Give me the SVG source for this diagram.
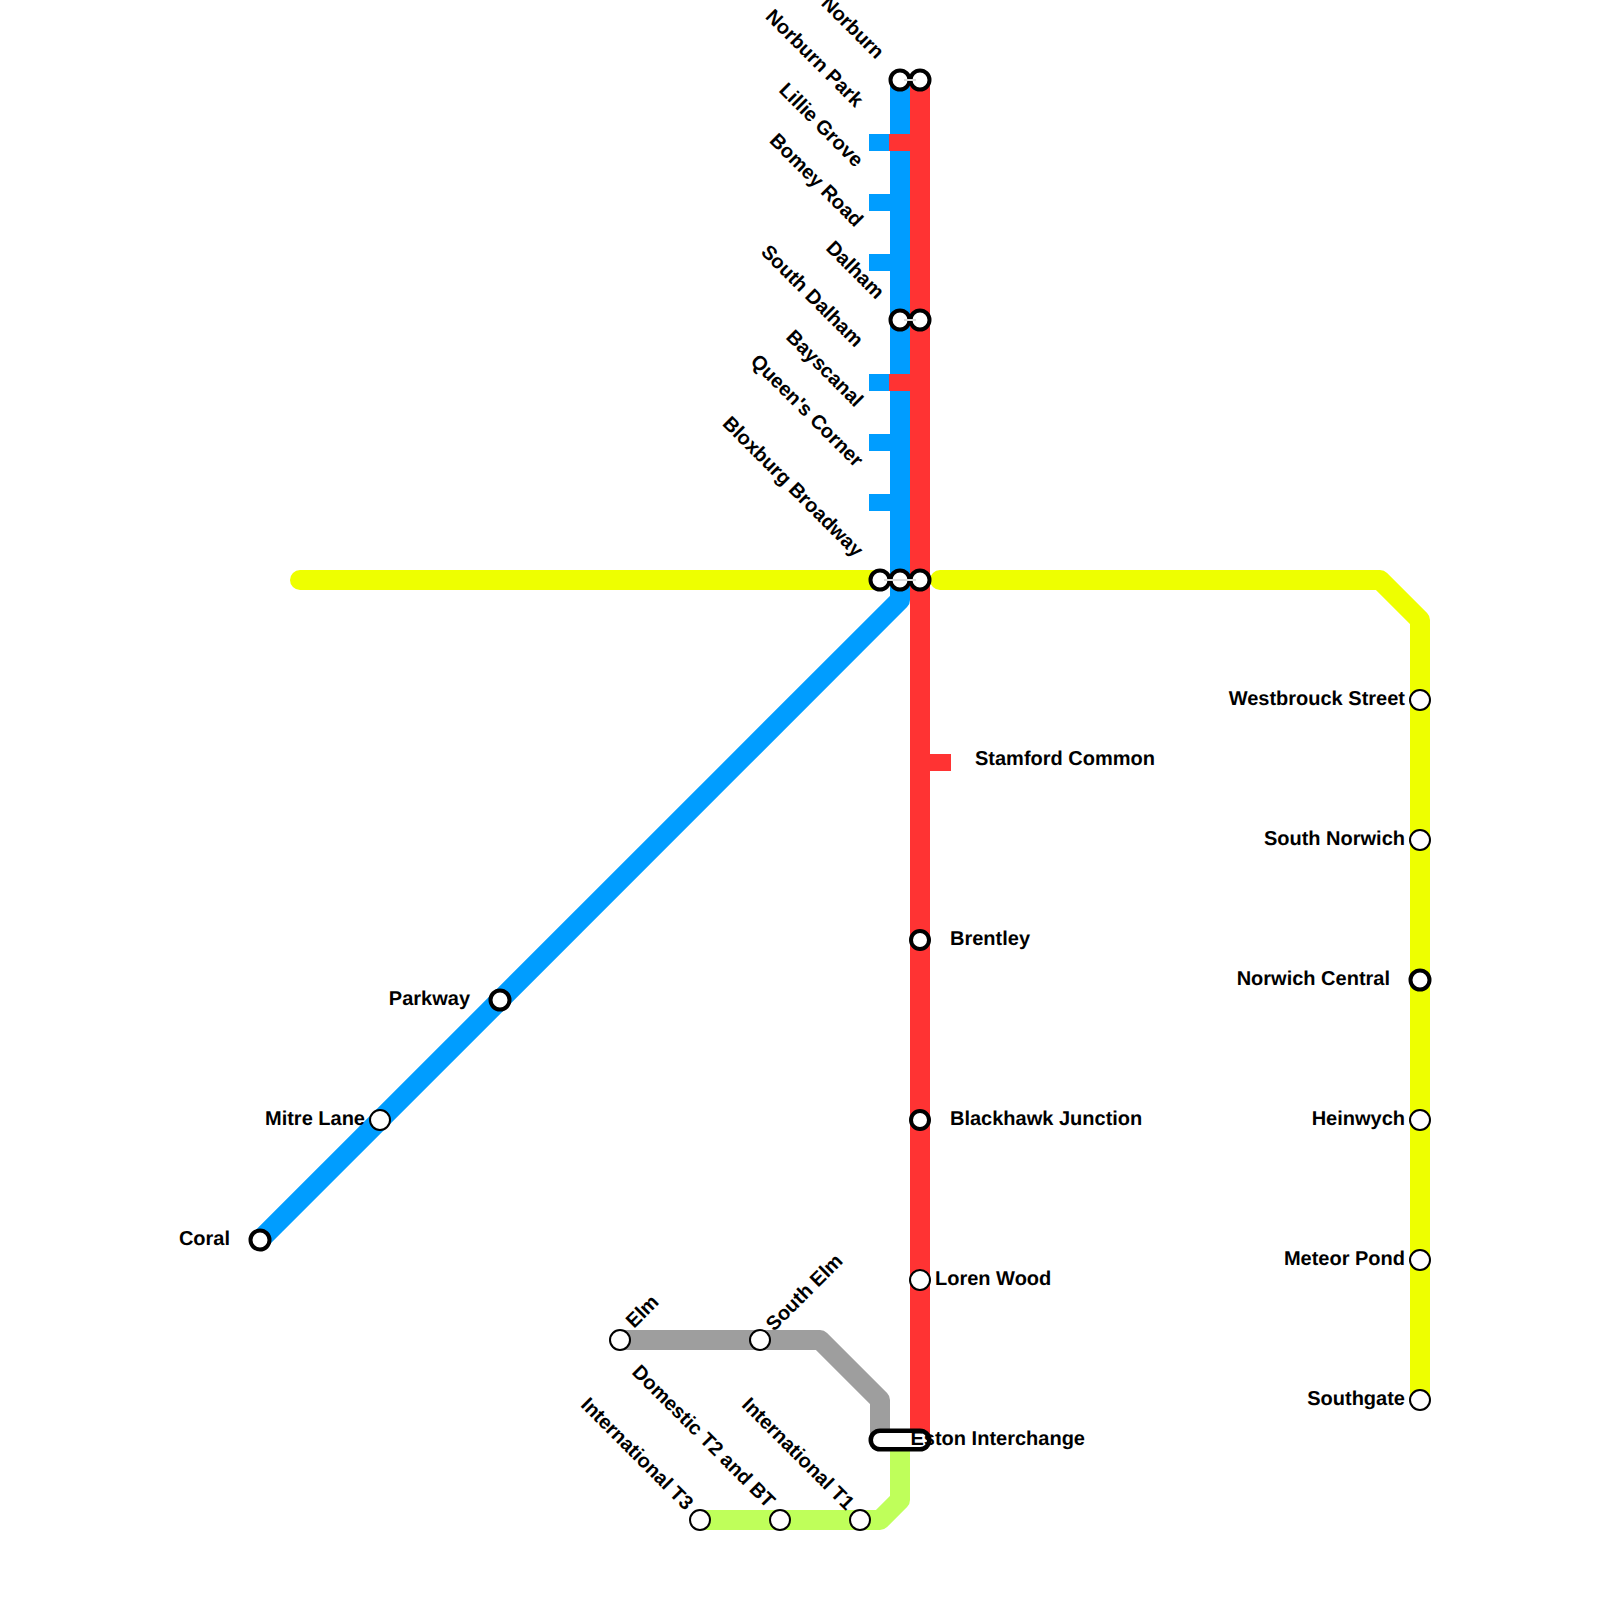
<svg xmlns="http://www.w3.org/2000/svg" width="1600" height="1600" viewBox="0 0 1600 1600">
<style>
.line{fill:none;stroke-width:20;stroke-linecap:round;stroke-linejoin:round}
.butt{stroke-linecap:butt}
.tick{stroke-width:17;fill:none}
.st{fill:#fff;stroke:#000;stroke-width:2}
.st2{fill:#fff;stroke:#000;stroke-width:4}
.neck{fill:none;stroke:#000;stroke-width:7}
.neckw{fill:none;stroke:#ddd;stroke-width:2}
.link{fill:none;stroke:#000;stroke-width:23;stroke-linecap:round}
.linkw{fill:none;stroke:#fff;stroke-width:14;stroke-linecap:round}
text{font-family:"Liberation Sans",Arial,sans-serif;font-size:20px;font-weight:700;fill:#000;text-rendering:geometricPrecision}
.e{text-anchor:end}
</style>
<rect width="1600" height="1600" fill="#fff"/>
<g id="connectors">
<path class="line" stroke="#eeff00" d="M300 580H880"/>
<path class="line" stroke="#eeff00" d="M940 580H1380L1420 620V1400"/>
<path class="line" stroke="#9e9e9e" d="M620 1340H820L880 1400V1440"/>
<path class="line" stroke="#bfff5a" d="M700 1520H880L900 1500V1440"/>
<path class="line" stroke="#009dff" d="M900 80V600L260 1240"/>
<path class="tick" stroke="#009dff" d="M869 142.500H890M869 202.500H890M869 262.500H890M869 382.500H890M869 442.500H890M869 502.500H890"/>
<path class="line butt" stroke="#ff3333" d="M920 80V1440"/>
<path class="tick" stroke="#ff3333" d="M889 142.500H910M889 382.500H910M930 762.500H951"/>
</g>
<g id="norburn"><path class="neck" d="M900 80H920"/><circle class="st2" cx="900" cy="80" r="9.500"/><circle class="st2" cx="920" cy="80" r="9.500"/><path class="neckw" d="M904 80H916"/><text class="e" transform="translate(876 60) rotate(45)">Norburn</text></g>
<g id="norburn-park"><text class="e" transform="translate(855 108) rotate(45)">Norburn Park</text></g>
<g id="lillie-grove"><text class="e" transform="translate(855 168) rotate(45)">Lillie Grove</text></g>
<g id="bomey-road"><text class="e" transform="translate(855 228) rotate(45)">Bomey Road</text></g>
<g id="dalham"><path class="neck" d="M900 320H920"/><circle class="st2" cx="900" cy="320" r="9.500"/><circle class="st2" cx="920" cy="320" r="9.500"/><path class="neckw" d="M904 320H916"/><text class="e" transform="translate(876 300) rotate(45)">Dalham</text></g>
<g id="south-dalham"><text class="e" transform="translate(855 348) rotate(45)">South Dalham</text></g>
<g id="bayscanal"><text class="e" transform="translate(855 408) rotate(45)">Bayscanal</text></g>
<g id="queens-corner"><text class="e" transform="translate(855 468) rotate(45)">Queen's Corner</text></g>
<g id="bloxburg-broadway"><path class="neck" d="M880 580H920"/><circle class="st2" cx="880" cy="580" r="9.500"/><circle class="st2" cx="900" cy="580" r="9.500"/><circle class="st2" cx="920" cy="580" r="9.500"/><path class="neckw" d="M884 580H916"/><text class="e" transform="translate(855 558) rotate(45)">Bloxburg Broadway</text></g>
<g id="stamford-common"><text x="975" y="765">Stamford Common</text></g>
<g id="brentley"><circle class="st2" cx="920" cy="940" r="9"/><text x="950" y="945">Brentley</text></g>
<g id="blackhawk-junction"><circle class="st2" cx="920" cy="1120" r="9"/><text x="950" y="1125">Blackhawk Junction</text></g>
<g id="loren-wood"><circle class="st" cx="920" cy="1280" r="10"/><text x="935" y="1285">Loren Wood</text></g>
<g id="eston-interchange"><path class="link" d="M880 1440H920"/><path class="linkw" d="M880 1440H920"/><text x="910.500" y="1445">Eston Interchange</text></g>
<g id="westbrouck-street"><circle class="st" cx="1420" cy="700" r="10"/><text class="e" x="1405" y="705">Westbrouck Street</text></g>
<g id="south-norwich"><circle class="st" cx="1420" cy="840" r="10"/><text class="e" x="1405" y="845">South Norwich</text></g>
<g id="norwich-central"><circle class="st2" cx="1420" cy="980" r="9.500"/><text class="e" x="1390" y="985">Norwich Central</text></g>
<g id="heinwych"><circle class="st" cx="1420" cy="1120" r="10"/><text class="e" x="1405" y="1125">Heinwych</text></g>
<g id="meteor-pond"><circle class="st" cx="1420" cy="1260" r="10"/><text class="e" x="1405" y="1265">Meteor Pond</text></g>
<g id="southgate"><circle class="st" cx="1420" cy="1400" r="10"/><text class="e" x="1405" y="1405">Southgate</text></g>
<g id="parkway"><circle class="st2" cx="500" cy="1000" r="9.500"/><text class="e" x="470" y="1005">Parkway</text></g>
<g id="mitre-lane"><circle class="st" cx="380" cy="1120" r="10"/><text class="e" x="365" y="1125">Mitre Lane</text></g>
<g id="coral"><circle class="st2" cx="260" cy="1240" r="9.500"/><text class="e" x="230" y="1245">Coral</text></g>
<g id="elm"><circle class="st" cx="620" cy="1340" r="10"/><text transform="translate(634 1329) rotate(-45)">Elm</text></g>
<g id="south-elm"><circle class="st" cx="760" cy="1340" r="10"/><text transform="translate(774 1332) rotate(-45)">South Elm</text></g>
<g id="international-t3"><circle class="st" cx="700" cy="1520" r="10"/><text class="e" transform="translate(685 1511) rotate(45)">International T3</text></g>
<g id="domestic-t2"><circle class="st" cx="780" cy="1520" r="10"/><text class="e" transform="translate(767 1509) rotate(45)">Domestic T2 and BT</text></g>
<g id="international-t1"><circle class="st" cx="860" cy="1520" r="10"/><text class="e" transform="translate(846 1511) rotate(45)">International T1</text></g>
</svg>
